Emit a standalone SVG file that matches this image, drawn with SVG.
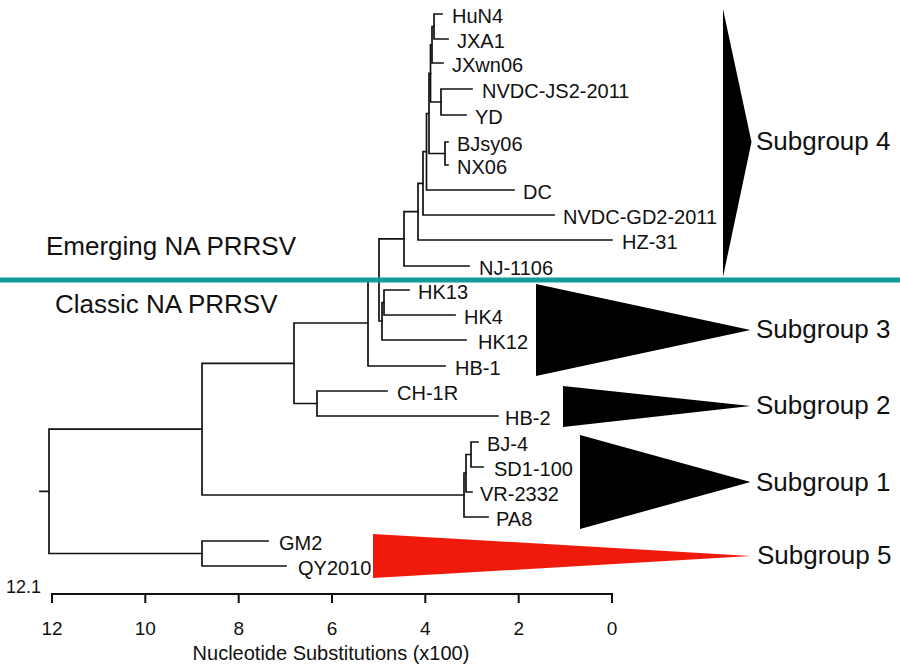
<svg xmlns="http://www.w3.org/2000/svg" width="900" height="668" viewBox="0 0 900 668">
<style>
  .br { fill: none; stroke: #111; stroke-width: 1.7; stroke-linecap: square; }
  .leaf { font-family: "Liberation Sans", Arial, sans-serif; font-size: 20px; fill: #111; }
  .big { font-family: "Liberation Sans", Arial, sans-serif; font-size: 26px; fill: #111; }
  .tick { font-family: "Liberation Sans", Arial, sans-serif; font-size: 19px; fill: #111; text-anchor: middle; }
  .axis { fill: none; stroke: #111; stroke-width: 2; }
  .tri { fill: #000; }
</style>
<rect width="900" height="668" fill="#fff"/>

<g id="connectors" class="br">
  <path d="M40 491.3H49M49 429.1V553.5M49 429.1H202M49 553.5H202"/>
  <path d="M202 541V566M202 541H268M202 566H286"/>
  <path d="M202 363.3V495M202 363.3H294M202 495H464"/>
  <path d="M294 323V403.5M294 323H368M294 403.5H317"/>
  <path d="M317 391V416M317 391H387M317 416H498"/>
  <path d="M464 473V517M464 473H466M464 517H488"/>
  <path d="M466 454.5V492M466 454.5H471M466 492H472"/>
  <path d="M471 442V467M471 442H478M471 467H483"/>
  <path d="M368 279.9V366M368 279.9H379M368 366H445"/>
  <path d="M379 238.8V321M379 238.8H404M379 321H382"/>
  <path d="M382 302.5V340M382 302.5H384M382 340H466"/>
  <path d="M384 290V315M384 290H409M384 315H455"/>
  <path d="M404 211.7V266M404 211.7H418M404 266H469"/>
  <path d="M418 183.4V240M418 183.4H423M418 240H612"/>
  <path d="M423 151.7V215M423 151.7H426.5M423 215H554"/>
  <path d="M426.5 113.5V190M426.5 113.5H429M426.5 190H514"/>
  <path d="M429 73.4V153.5M429 73.4H430.5M429 153.5H445"/>
  <path d="M445 142V165M445 142H448M445 165H448"/>
  <path d="M430.5 44.75V102M430.5 44.75H432M430.5 102H441"/>
  <path d="M441 89V115M441 89H472M441 115H466"/>
  <path d="M432 26.5V63M432 26.5H434M432 63H443"/>
  <path d="M434 14V39M434 14H442M434 39H448"/>
</g>

<g id="leaves" class="leaf">
  <g id="HuN4"><text x="452" y="22.5">HuN4</text></g>
  <g id="JXA1"><text x="457" y="47.5">JXA1</text></g>
  <g id="JXwn06"><text x="452" y="71.5">JXwn06</text></g>
  <g id="NVDC-JS2-2011"><text x="482" y="97.5">NVDC-JS2-2011</text></g>
  <g id="YD"><text x="475" y="123.5">YD</text></g>
  <g id="BJsy06"><text x="457" y="150.5">BJsy06</text></g>
  <g id="NX06"><text x="457" y="173.5">NX06</text></g>
  <g id="DC"><text x="523" y="198.5">DC</text></g>
  <g id="NVDC-GD2-2011"><text x="563" y="223.5">NVDC-GD2-2011</text></g>
  <g id="HZ-31"><text x="622" y="248.5">HZ-31</text></g>
  <g id="NJ-1106"><text x="479" y="274.5">NJ-1106</text></g>
  <g id="HK13"><text x="418" y="298.5">HK13</text></g>
  <g id="HK4"><text x="464" y="323.5">HK4</text></g>
  <g id="HK12"><text x="478" y="348.5">HK12</text></g>
  <g id="HB-1"><text x="455" y="374.5">HB-1</text></g>
  <g id="CH-1R"><text x="397" y="399.5">CH-1R</text></g>
  <g id="HB-2"><text x="505" y="424.5">HB-2</text></g>
  <g id="BJ-4"><text x="487" y="450.5">BJ-4</text></g>
  <g id="SD1-100"><text x="494" y="475.5">SD1-100</text></g>
  <g id="VR-2332"><text x="480" y="500.5">VR-2332</text></g>
  <g id="PA8"><text x="496" y="525.5">PA8</text></g>
  <g id="GM2"><text x="279" y="549.5">GM2</text></g>
  <g id="QY2010"><text x="298" y="574.5">QY2010</text></g>
</g>

<g id="subgroup4"><polygon class="tri" points="723,9 723,277 751.5,142"/><text class="big" x="756" y="150">Subgroup 4</text></g>
<g id="subgroup3"><polygon class="tri" points="536,284 536,376 750.5,330"/><text class="big" x="756" y="338">Subgroup 3</text></g>
<g id="subgroup2"><polygon class="tri" points="563,386 563,427 750.5,406"/><text class="big" x="756" y="414">Subgroup 2</text></g>
<g id="subgroup1"><polygon class="tri" points="580,435 580,529 750.5,482"/><text class="big" x="756" y="491">Subgroup 1</text></g>
<g id="subgroup5"><polygon points="373,534 373,578 751,556" fill="#f01a0c"/><text class="big" x="757" y="564">Subgroup 5</text></g>

<g id="divider">
  <line x1="0" y1="280" x2="900" y2="280" stroke="#139a9a" stroke-width="5"/>
  <text class="big" x="46" y="255">Emerging NA PRRSV</text>
  <text class="big" x="55" y="313">Classic NA PRRSV</text>
</g>

<g id="scale">
  <text x="6" y="593" font-family="Liberation Sans, Arial, sans-serif" font-size="18" fill="#111">12.1</text>
  <path class="axis" d="M51 594H613M52 594V603M145.3 594V603M238.7 594V603M332 594V603M425.3 594V603M518.7 594V603M612 594V603"/>
  <text class="tick" x="52" y="635">12</text>
  <text class="tick" x="145.3" y="635">10</text>
  <text class="tick" x="238.7" y="635">8</text>
  <text class="tick" x="332" y="635">6</text>
  <text class="tick" x="425.3" y="635">4</text>
  <text class="tick" x="518.7" y="635">2</text>
  <text class="tick" x="612" y="635">0</text>
  <text x="331" y="660" text-anchor="middle" font-family="Liberation Sans, Arial, sans-serif" font-size="20" fill="#111">Nucleotide Substitutions (x100)</text>
</g>
</svg>
